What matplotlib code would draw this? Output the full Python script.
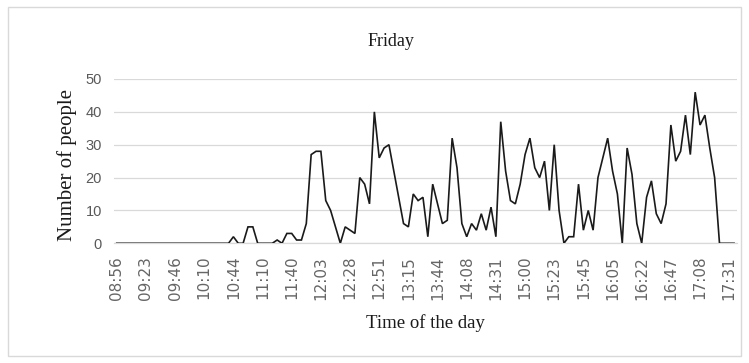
import matplotlib
matplotlib.use("Agg")
import matplotlib.pyplot as plt
from matplotlib.patches import Rectangle

tick_labels = ["08:56", "09:23", "09:46", "10:10", "10:44", "11:10", "11:40",
               "12:03", "12:28", "12:51", "13:15", "13:44", "14:08", "14:31",
               "15:00", "15:23", "15:45", "16:05", "16:22", "16:47", "17:08", "17:31"]
label_step = 6

people = [0] * 24 + [
    2, 0, 0, 5, 5, 0, 0, 0, 0, 1, 0, 3, 3, 1, 1, 6,          # 24-39
    27, 28, 28, 13, 10, 5, 0, 5, 4, 3, 20, 18, 12, 40, 26, 29,  # 40-55
    30, 22, 14, 6, 5, 15, 13, 14, 2, 18, 12, 6, 7, 32, 23, 6,   # 56-71
    2, 6, 4, 9, 4, 11, 2, 37, 22, 13, 12, 18, 27, 32, 23, 20,   # 72-87
    25, 10, 30, 10, 0, 2, 2, 18, 4, 10, 4, 20, 26, 32, 22, 15,  # 88-103
    0, 29, 21, 6, 0, 14, 19, 9, 6, 12, 36, 25, 28, 39, 27, 46,  # 104-119
    36, 39, 29, 20, 0, 0, 0, 0,                                 # 120-127
]

W, H = 749, 363
fig = plt.figure(figsize=(W / 100, H / 100), dpi=100)
fig.patch.set_facecolor("white")

left, right, y0px, y50px = 114.3, 736.5, 243.3, 79.0
ax = fig.add_axes([left / W, (H - y0px) / H, (right - left) / W, (y0px - y50px) / H])

x = list(range(len(people)))
ax.plot(x, people, color="#1a1a1a", lw=1.2, solid_joinstyle="miter", zorder=3)
ax.set_xlim(-0.5, len(people) - 0.5)
ax.set_ylim(0, 50)
ax.set_yticks(range(0, 51, 10))
ax.yaxis.grid(True, color="#D9D9D9", lw=0.9)
ax.set_axisbelow(True)
for s in ["left", "right", "top"]:
    ax.spines[s].set_visible(False)
ax.spines["bottom"].set_color("#D9D9D9")
ax.spines["bottom"].set_linewidth(0.9)

ax.set_xticks(list(range(0, len(people), label_step))[:len(tick_labels)])
ax.set_xticklabels(tick_labels, rotation=90, fontsize=11, color="#666666",
                   family="DejaVu Sans")
ax.tick_params(axis="x", length=0, pad=9)
ax.tick_params(axis="y", length=0, pad=9, labelsize=10.5, labelcolor="#595959")
for t in ax.get_yticklabels():
    t.set_family("Liberation Sans")

fig.text(391 / W, 1 - 41 / H, "Friday", ha="center", va="center",
         family="Liberation Serif", fontsize=13, color="#1a1a1a")
fig.text(425 / W, 1 - 323 / H, "Time of the day", ha="center", va="center",
         family="Liberation Serif", fontsize=13.5, color="#1a1a1a")
fig.text(67 / W, 1 - 165 / H, "Number of people", ha="center", va="center",
         rotation=90, family="Liberation Serif", fontsize=15, color="#1a1a1a")

fig.patches.append(Rectangle((8 / W, 7 / H), (741 - 8) / W, (356 - 7) / H,
                             transform=fig.transFigure, fill=False,
                             ec="#D9D9D9", lw=1))

fig.savefig("out.png", dpi=100)
